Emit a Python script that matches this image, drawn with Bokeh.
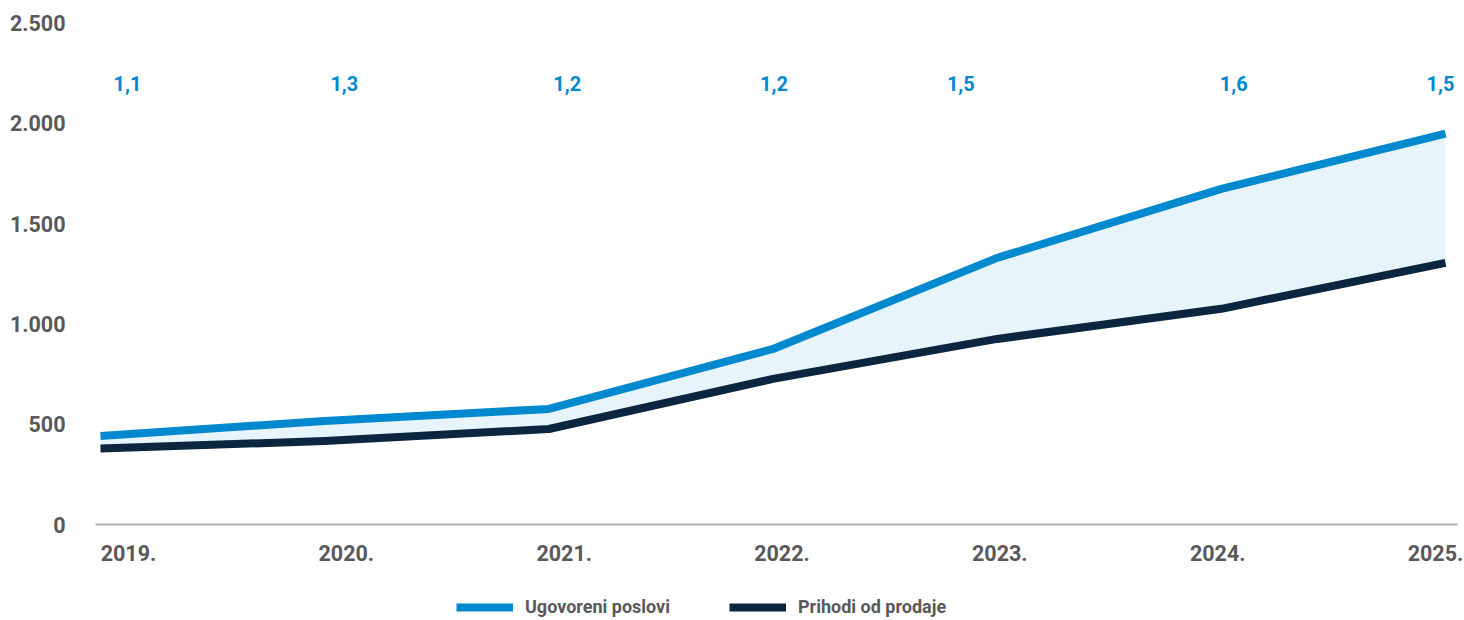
from bokeh.plotting import figure
from bokeh.layouts import column
from bokeh.models import Range1d, LinearAxis, FixedTicker, Legend, LegendItem, ColumnDataSource
from bokeh.core.properties import value
from bokeh.embed import file_html
from bokeh.resources import INLINE

# ---- data ----
years = ["2019.", "2020.", "2021.", "2022.", "2023.", "2024.", "2025."]
ugovoreni = [441, 516, 576, 875, 1329, 1673, 1948]
prihodi = [379, 416, 476, 726, 925, 1075, 1304]
ratio_labels = ["1,1", "1,3", "1,2", "1,2", "1,5", "1,6", "1,5"]
y_ticks = [0, 500, 1000, 1500, 2000, 2500]
y_tick_labels = ["0", "500", "1.000", "1.500", "2.000", "2.500"]
series_names = ["Ugovoreni poslovi", "Prihodi od prodaje"]

# ---- style / layout ----
BLUE = "#0089cf"
NAVY = "#0c263f"
GRAY = "#58595b"
AXIS = "#b1b3b5"
FONT = "Roboto"
ratio_y = 2200
ratio_dx = [-1, -2, 3, -8, -39, 16, 5]

idx = list(range(len(years)))

p = figure(width=1464, height=580, output_backend="svg", toolbar_location=None,
           x_range=Range1d(-0.0223, 6.0535), y_range=Range1d(0, 2542),
           x_axis_type=None, y_axis_type=None,
           min_border_left=95, min_border_right=7, min_border_top=14, min_border_bottom=56)
p.extra_x_ranges = {"lab": Range1d(-0.1515, 6.101)}
p.outline_line_color = None
p.background_fill_color = "white"
p.border_fill_color = "white"
p.grid.visible = False

yaxis = LinearAxis(ticker=FixedTicker(ticks=y_ticks),
                   major_label_overrides=dict(zip(y_ticks, y_tick_labels)))
yaxis.axis_line_color = None
yaxis.major_tick_line_color = None
yaxis.minor_tick_line_color = None
yaxis.major_label_standoff = 24
yaxis.major_label_text_font = FONT
yaxis.major_label_text_font_style = "bold"
yaxis.major_label_text_font_size = "21.5px"
yaxis.major_label_text_color = GRAY
p.add_layout(yaxis, "left")

xaxis = LinearAxis(x_range_name="lab", ticker=FixedTicker(ticks=idx),
                   major_label_overrides=dict(zip(idx, years)))
xaxis.axis_line_color = AXIS
xaxis.axis_line_width = 2
xaxis.major_tick_line_color = None
xaxis.minor_tick_line_color = None
xaxis.major_label_standoff = 14
xaxis.major_label_text_font = FONT
xaxis.major_label_text_font_style = "bold"
xaxis.major_label_text_font_size = "21.5px"
xaxis.major_label_text_color = GRAY
p.add_layout(xaxis, "below")

src = ColumnDataSource(dict(x=idx, u=ugovoreni, pr=prihodi))
p.varea(x="x", y1="pr", y2="u", source=src, fill_color=BLUE, fill_alpha=0.09)
p.line("x", "pr", source=src, line_color=NAVY, line_width=8, line_cap="butt", line_join="round")
p.line("x", "u", source=src, line_color=BLUE, line_width=8, line_cap="butt", line_join="round")

rsrc = ColumnDataSource(dict(x=idx, y=[ratio_y] * len(idx), t=ratio_labels, dx=ratio_dx))
p.text(x="x", y="y", text="t", x_offset="dx", source=rsrc, x_range_name="lab",
       text_font=value(FONT), text_font_style="bold", text_font_size="20px",
       text_color=BLUE, text_align="center", text_baseline="middle")

# ---- legend strip (series lie outside its view; only the legend shows) ----
pl = figure(width=1464, height=40, output_backend="svg", toolbar_location=None,
            x_range=Range1d(0, 1), y_range=Range1d(0, 1),
            x_axis_type=None, y_axis_type=None, min_border=0)
pl.outline_line_color = None
pl.grid.visible = False
l1 = pl.line(x="x", y="u", source=src, line_color=BLUE, line_width=8, line_cap="butt")
l2 = pl.line(x="x", y="pr", source=src, line_color=NAVY, line_width=8, line_cap="butt")
legend = Legend(items=[LegendItem(label=series_names[0], renderers=[l1]),
                       LegendItem(label=series_names[1], renderers=[l2])],
                location=(361, 3), orientation="horizontal",
                glyph_width=57, glyph_height=20, label_standoff=12, spacing=59,
                padding=0, margin=0, border_line_color=None, background_fill_alpha=0,
                label_text_font=FONT, label_text_font_style="bold",
                label_text_font_size="18px", label_text_color=GRAY)
pl.add_layout(legend)

open("out.html", "w").write(file_html(column(p, pl, spacing=0), INLINE))
